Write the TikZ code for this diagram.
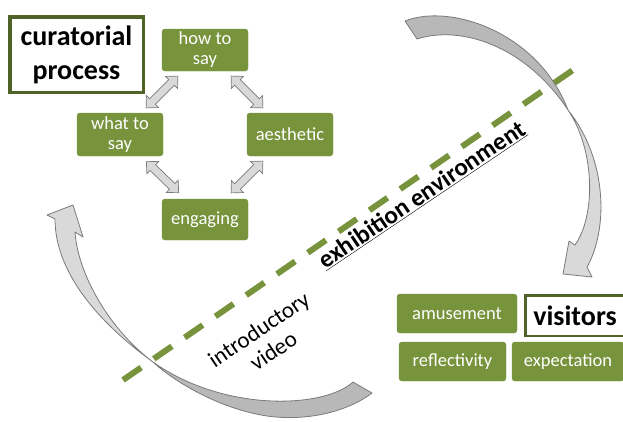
\documentclass[tikz,border=0pt]{standalone}
\usepackage{fontspec}
\setmainfont{Carlito}
\usetikzlibrary{calc}
\definecolor{olive}{HTML}{77933C}
\definecolor{darkolive}{HTML}{4F6228}
\definecolor{arrfill}{HTML}{D9D9D9}
\definecolor{arrback}{HTML}{B8B8B8}
\definecolor{arrline}{HTML}{7A7A7A}
\begin{document}
\begin{tikzpicture}[x=1pt,y=-1pt,
  gbox/.style={fill=olive, draw=olive, rounded corners=3pt, text=white,
    font=\fontsize{18.5}{20}\selectfont, align=center, inner sep=0pt},
  tbox/.style={fill=white, draw=darkolive, text=black, inner sep=0pt,
    font=\bfseries\fontsize{28}{34}\selectfont, align=center},
  fatdbl/.pic={\filldraw[draw=arrline, fill=arrfill, line width=0.7pt, line join=miter]
    (-22.5,0) -- (-13.5,8.5) -- (-13.5,4) -- (13.5,4) -- (13.5,8.5) -- (22.5,0)
    -- (13.5,-8.5) -- (13.5,-4) -- (-13.5,-4) -- (-13.5,-8.5) -- cycle;},
  bigarr/.style={draw=arrline, line width=0.8pt, line join=round},
  divider/.style={draw=olive, line width=6pt, dash pattern=on 22pt off 15.4pt},
  rottext/.style={rotate=34, align=center, text=black}]
\useasboundingbox (0,0) rectangle (623,421);
\clip (0,0) rectangle (623,421);

% boxes
\node[tbox, line width=3.5pt, minimum width=133.5pt, minimum height=75.5pt] (cur) at (76.5,54.5) {curatorial\\process};
\node[gbox, minimum width=86pt, minimum height=42pt] (howto) at (205,50) {how to\\say};
\node[gbox, minimum width=86pt, minimum height=43pt] (whatto) at (120,134.5) {what to\\say};
\node[gbox, minimum width=86pt, minimum height=43pt] (aes) at (290,134.5) {aesthetic};
\node[gbox, minimum width=86pt, minimum height=41pt] (eng) at (205,219.5) {engaging};

\node[gbox, minimum width=120pt, minimum height=39pt] (amu) at (457,313.5) {amusement};
\node[gbox, minimum width=107pt, minimum height=39pt] (ref) at (452.5,361.5) {reflectivity};
\node[gbox, minimum width=112pt, minimum height=39pt] (exp) at (568,361.5) {expectation};
\node[tbox, line width=2.5pt, minimum width=99.5pt, minimum height=40.5pt] (vis) at (575,315.5) {visitors};

% double arrows
\path ($(howto.south west)+(16,5)$) -- ($(whatto.north east)+(-17,-5)$) pic[midway, sloped] {fatdbl};
\path ($(howto.south east)+(-17,5)$) -- ($(aes.north west)+(16,-5)$) pic[midway, sloped] {fatdbl};
\path ($(whatto.south east)+(-17,5)$) -- ($(eng.north west)+(17,-6)$) pic[midway, sloped] {fatdbl};
\path ($(aes.south west)+(16,5)$) -- ($(eng.north east)+(-17,-6)$) pic[midway, sloped] {fatdbl};

% dashed divider
\coordinate (d1) at (123,380);
\coordinate (d2) at (573,70);
\draw[divider] (d1) -- (d2);

% top-right curved arrow
\filldraw[bigarr, fill=arrback] (405,21) .. controls (450,3) and (538,32) .. (568,110)
  .. controls (525,45) and (460,25) .. (417,39) -- cycle;
\filldraw[bigarr, fill=arrfill] (568,110) .. controls (595,150) and (596,215) .. (575,245)
  -- (569,241) -- (563,274) -- (592,277) -- (587,267)
  .. controls (608,230) and (608,160) .. (568,110) -- cycle;

% bottom-left curved arrow
\filldraw[bigarr, fill=arrback] (353,382) .. controls (325,408) and (225,413) .. (153,362)
  .. controls (170,378) and (215,408) .. (267,416)
  .. controls (310,422) and (350,410) .. (372,393) -- cycle;
\filldraw[bigarr, fill=arrfill] (153,362) .. controls (95,320) and (55,270) .. (55,219)
  -- (47,215) -- (73,205) -- (83,237) -- (75,232)
  .. controls (78,275) and (110,330) .. (153,362) -- cycle;

% labels
\node[rottext, font=\bfseries\fontsize{25}{28}\selectfont] (exh) at (422,195) {\underline{exhibition environment}};
\node[rottext, font=\fontsize{23}{26}\selectfont] (intro) at (266,340) {introductory\\video};
\end{tikzpicture}
\end{document}
